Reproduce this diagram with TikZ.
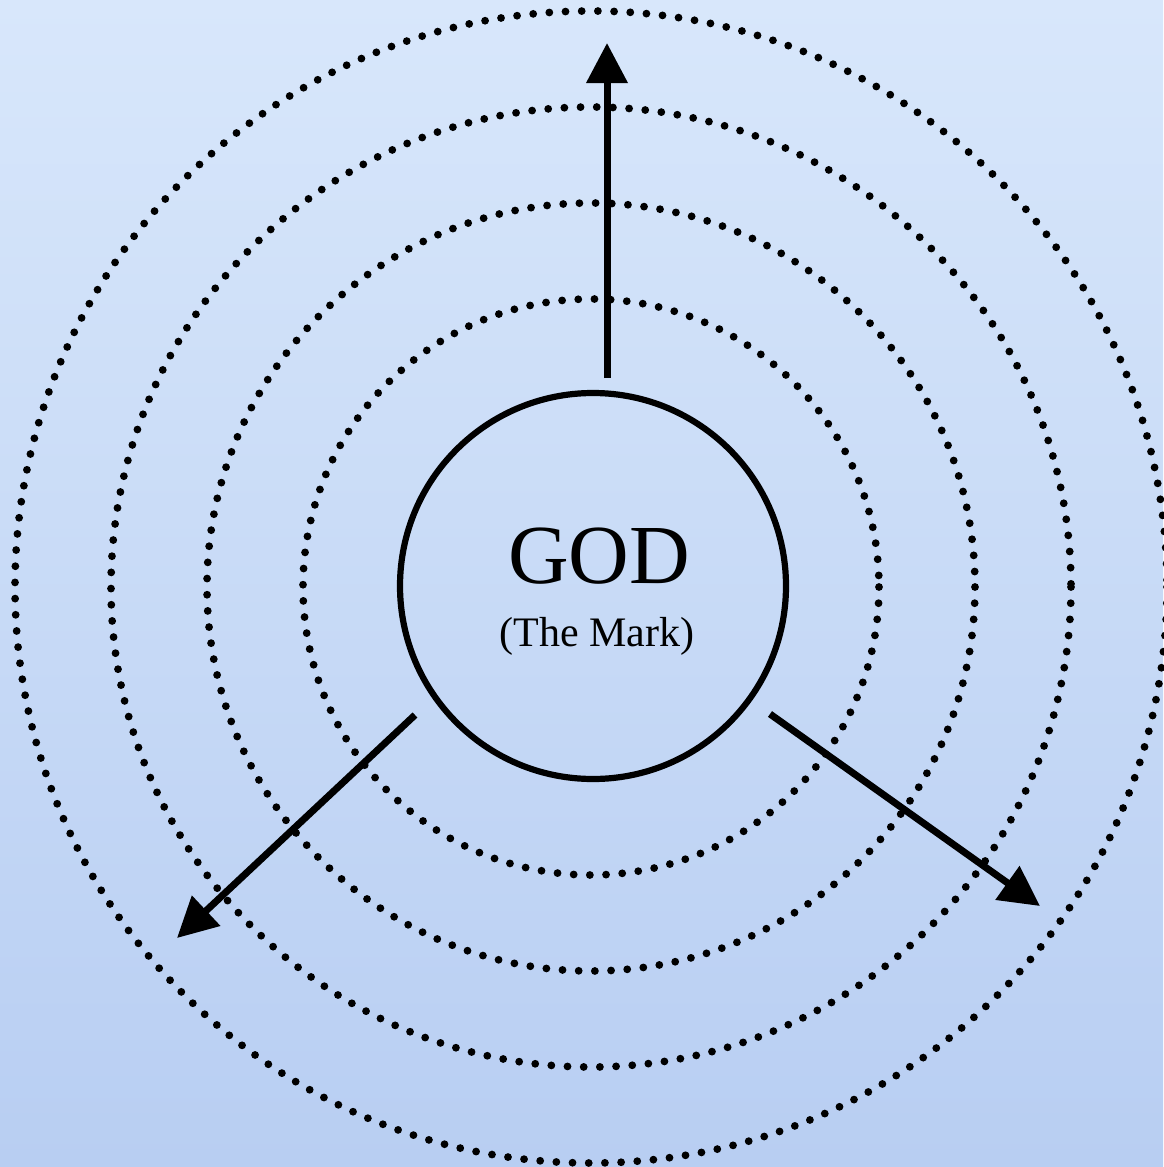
\documentclass[tikz,border=0pt]{standalone}
\usepackage{fontspec}
\setmainfont{Liberation Serif}
\usetikzlibrary{arrows.meta}
\definecolor{bgtop}{RGB}{216,231,251}
\definecolor{bgbot}{RGB}{184,206,242}
\tikzset{
  ring/.style={draw=black, line width=3.9pt, line cap=round, dash pattern=on 0pt off 8.1pt},
  markcircle/.style={circle, draw=black, line width=3.1pt, minimum size=193pt, inner sep=0pt},
  outarrow/.style={draw=black, line width=3.5pt, -{Triangle[length=20pt,width=20pt]}}
}
\begin{document}
\begin{tikzpicture}[x=0.5pt,y=-0.5pt]
\fill[top color=bgtop, bottom color=bgbot] (0,0) rectangle (1163,1167);
\useasboundingbox (0,0) rectangle (1163,1167);
\coordinate (rc) at (591,587);
\draw[ring] (rc) circle[radius=288];
\draw[ring] (rc) circle[radius=384];
\draw[ring] (rc) circle[radius=480];
\draw[ring] (rc) circle[radius=576];
\node[markcircle] (god) at (593,586) {};
\node (godtext) at (599,556) {\fontsize{42pt}{46pt}\selectfont GOD};
\node (marktext) at (597,636) {\fontsize{21pt}{24pt}\selectfont (The Mark)};
\coordinate (s1) at (607,378);
\coordinate (t1) at (607,43);
\coordinate (s2) at (415,715);
\coordinate (t2) at (177,938);
\coordinate (s3) at (770,714);
\coordinate (t3) at (1040,906);
\draw[outarrow] (s1) -- (t1);
\draw[outarrow] (s2) -- (t2);
\draw[outarrow] (s3) -- (t3);
\end{tikzpicture}
\end{document}
